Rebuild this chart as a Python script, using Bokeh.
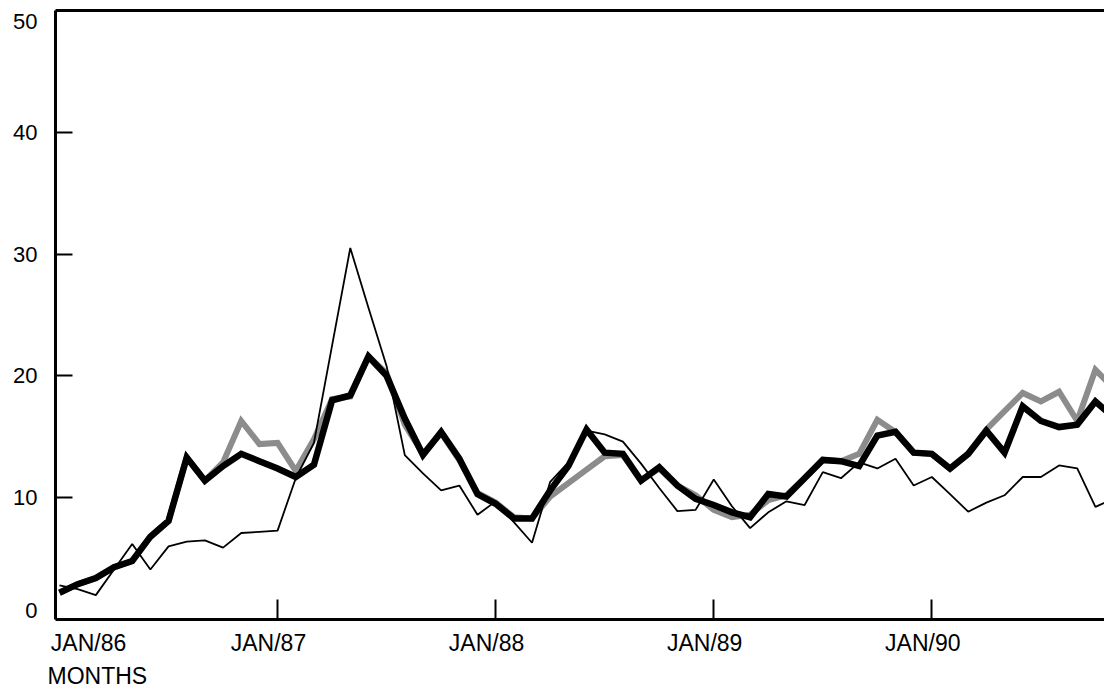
from bokeh.plotting import figure
from bokeh.models import FixedTicker, LinearAxis, Range1d, Title
from bokeh.embed import file_html
from bokeh.resources import INLINE

# ---- data (monthly, index 0 = JAN/86) ----
months = list(range(59))

thin_series = [2.8, 2.5, 2.0, 4.1, 6.2, 4.1, 6.0, 6.4, 6.5, 5.9, 7.1, 7.2, 7.3,
               11.6, 14.5, 22.5, 30.5, 25.6, 20.8,
               13.5, 12.0, 10.6, 11.0, 8.6, 9.7, 8.0, 6.3, 11.3, 12.9,
               15.5, 15.2, 14.6, 12.8, 10.8, 8.9, 9.0, 11.5, 9.3, 7.5,
               8.8, 9.7, 9.4, 12.1, 11.6, 12.9, 12.4, 13.2, 11.0, 11.7,
               10.3, 8.85, 9.6, 10.2, 11.7, 11.7, 12.65, 12.4, 9.25, 9.9]

gray_series = [2.2, 2.9, 3.4, 4.3, 4.8, 6.8, 8.1, 13.3, 11.4, 12.9, 16.3, 14.4, 14.5,
               12.2, 14.8, 18.1, 18.3, 21.6, 20.2,
               16.0, 13.6, 15.3, 13.1, 10.4, 9.6, 8.4, 8.3, 10.1, 11.2,
               12.3, 13.4, 13.5, 11.4, 12.4, 11.0, 10.2, 9.0, 8.4, 8.6,
               9.8, 10.2, 11.6, 13.1, 13.0, 13.6, 16.4, 15.4, 13.7, 13.6,
               12.4, 13.6, 15.6, 17.1, 18.6, 17.9, 18.7, 16.3, 20.5, 19.0]

black_series = [2.2, 2.9, 3.4, 4.3, 4.8, 6.8, 8.1, 13.3, 11.4, 12.6, 13.6, 13.0, 12.4,
                11.7, 12.7, 18.0, 18.4, 21.6, 20.0,
                16.5, 13.5, 15.4, 13.2, 10.3, 9.5, 8.3, 8.3, 10.6, 12.6,
                15.6, 13.7, 13.6, 11.4, 12.5, 11.0, 9.9, 9.4, 8.8, 8.4,
                10.3, 10.1, 11.6, 13.1, 13.0, 12.6, 15.1, 15.4, 13.7, 13.6,
                12.4, 13.6, 15.5, 13.7, 17.5, 16.3, 15.8, 16.0, 17.9, 16.6]

y_tick_values = [0, 10, 20, 30, 40, 50]
y_tick_labels = ["0", "10", "20", "30", "40", "50"]
x_tick_months = [0, 12, 24, 36, 48]
x_tick_labels = ["JAN/86", "JAN/87", "JAN/88", "JAN/89", "JAN/90"]
x_axis_title = "MONTHS"

FONT = "Liberation Sans"

y_lo, y_hi = min(y_tick_values), max(y_tick_values)
x_start, x_end = -0.22, 57.5

p = figure(width=1104, height=690, output_backend="svg", toolbar_location=None,
           x_range=Range1d(x_start, x_end), y_range=Range1d(y_lo, y_hi),
           min_border_left=55, min_border_right=0, min_border_top=10,
           min_border_bottom=68, background_fill_color="white",
           border_fill_color="white")

p.xgrid.visible = False
p.ygrid.visible = False
p.outline_line_color = None

# label positions: end labels pulled inward (layout only)
y_label_pos = []
for v in y_tick_values:
    if v == y_hi:
        y_label_pos.append(v - 0.9)
    elif v == y_lo:
        y_label_pos.append(v + 0.7)
    else:
        y_label_pos.append(float(v))
x_label_pos = [m + 1.6 if i == 0 else m - 0.5 for i, m in enumerate(x_tick_months)]


def style_axis(ax, label_pos, labels, tick_pos, tick_len, standoff, fs):
    ax.ticker = FixedTicker(ticks=label_pos, minor_ticks=tick_pos)
    ax.major_label_overrides = {pos: t for pos, t in zip(label_pos, labels)}
    ax.major_tick_in = 0
    ax.major_tick_out = 0
    ax.minor_tick_in = tick_len
    ax.minor_tick_out = 0
    ax.minor_tick_line_width = 2
    ax.minor_tick_line_color = "black"
    ax.axis_line_width = 3
    ax.axis_line_color = "black"
    ax.major_label_text_font = FONT
    ax.major_label_text_font_size = fs
    ax.major_label_text_color = "black"
    ax.major_label_standoff = standoff


style_axis(p.xaxis[0], x_label_pos, x_tick_labels, x_tick_months[1:], 20, 10, "23px")
style_axis(p.yaxis[0], y_label_pos, y_tick_labels, y_tick_values[1:-1], 17, 18, "22px")

top = LinearAxis(ticker=FixedTicker(ticks=[]), axis_line_width=3,
                 axis_line_color="black", major_tick_in=0, major_tick_out=0,
                 minor_tick_in=0, minor_tick_out=0, major_label_standoff=0)
p.add_layout(top, "above")

p.add_layout(Title(text=x_axis_title, align="left", offset=-8, standoff=4,
                   text_font=FONT, text_font_size="23px", text_font_style="normal",
                   text_color="black"), "below")

p.line(months, gray_series, line_color="#8c8c8c", line_width=6, line_join="miter")
p.line(months, black_series, line_color="black", line_width=6.5, line_join="miter")
p.line(months, thin_series, line_color="black", line_width=1.8)

open("out.html", "w").write(file_html(p, INLINE))
